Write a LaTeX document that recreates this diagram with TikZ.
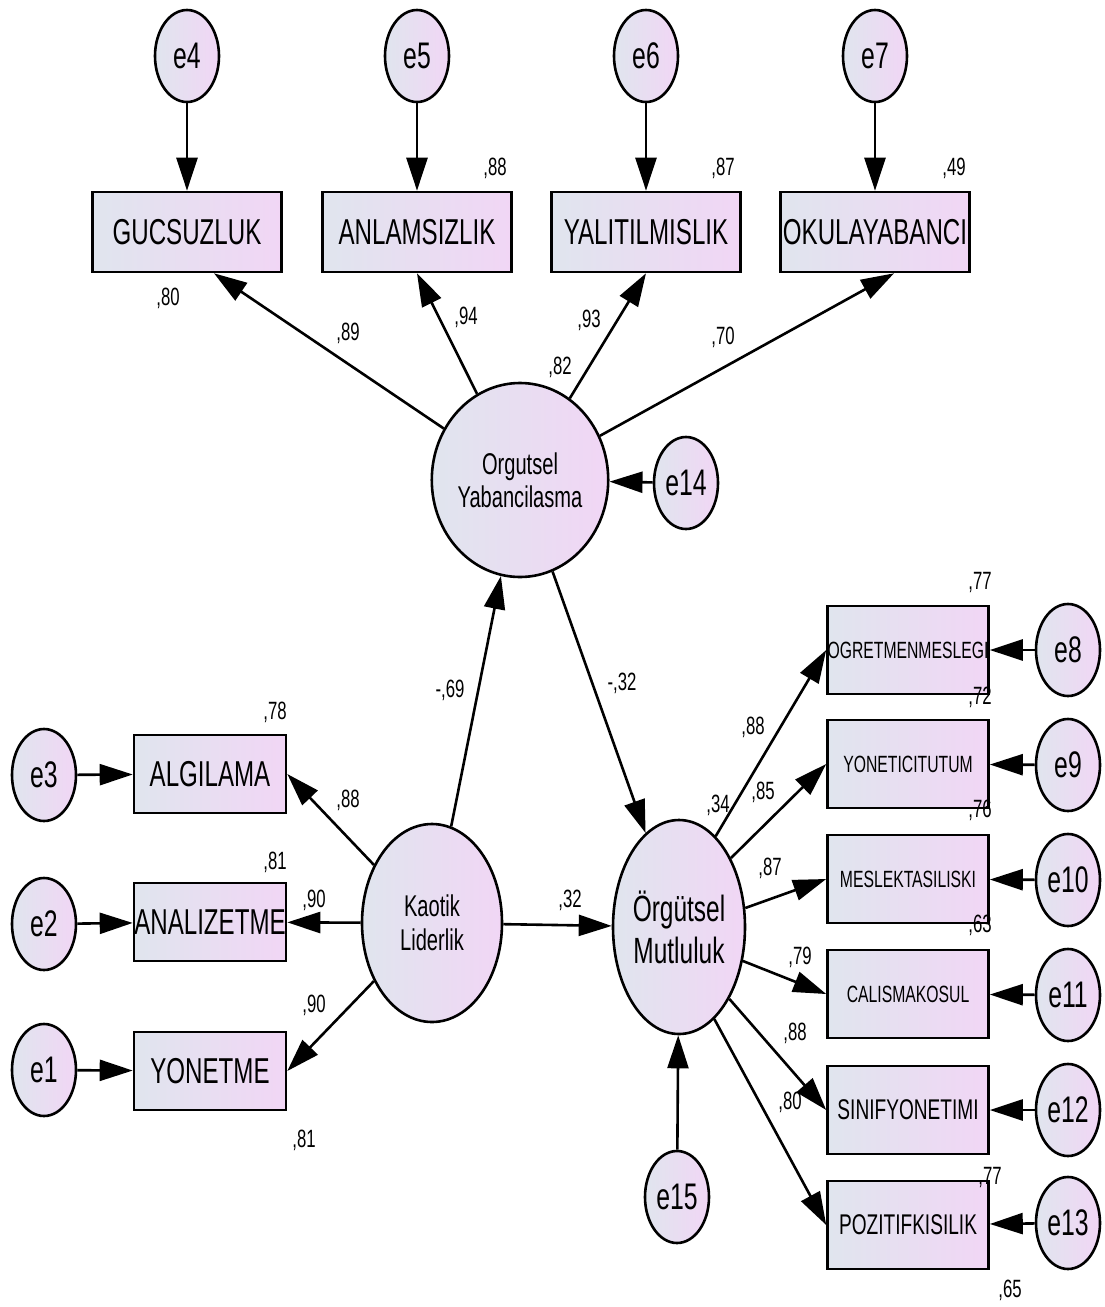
\documentclass[tikz,border=0pt]{standalone}
\usepackage{fontspec}
\setmainfont{Liberation Sans}[FakeStretch=0.67]
\usetikzlibrary{shapes.geometric,arrows.meta}
\definecolor{fillL}{RGB}{224,229,238}
\definecolor{fillR}{RGB}{241,214,245}
\begin{document}
\begin{tikzpicture}[x=1pt, y=-1pt, >={Triangle[length=33pt,width=21pt]}, line width=2.6pt,
    err/.style={ellipse, draw, left color=fillL, right color=fillR, minimum width=64pt, minimum height=92pt, inner sep=0pt, font=\fontsize{37}{37}\selectfont},
    lat/.style={ellipse, draw, left color=fillL, right color=fillR, inner sep=0pt, align=center},
    obs/.style={rectangle, draw, left color=fillL, right color=fillR, inner sep=0pt},
    topobs/.style={obs, minimum width=189pt, minimum height=80pt, font=\fontsize{36}{36}\selectfont},
    leftobs/.style={obs, minimum width=152pt, minimum height=78pt, font=\fontsize{36}{36}\selectfont},
    rightobs/.style={obs, minimum width=161pt, minimum height=88pt, font=\fontsize{23.5}{23.5}\selectfont},
    coef/.style={inner sep=0pt, font=\fontsize{25}{25}\selectfont}]
    \useasboundingbox (0,0) rectangle (1104,1307);
    % latent variables
    \node[lat, minimum width=136pt, minimum height=194pt, font=\fontsize{30}{33}\selectfont] (OY) at (520,480) {Orgutsel\\Yabancilasma};
    \node[lat, minimum width=140pt, minimum height=198pt, font=\fontsize{30}{34}\selectfont] (KL) at (432,923) {Kaotik\\Liderlik};
    \node[lat, minimum width=132pt, minimum height=214pt, font=\fontsize{36.5}{42}\selectfont] (OM) at (679,927) {Örgütsel\\Mutluluk};
    % top indicators
    \node[topobs] (gucs) at (187,232) {GUCSUZLUK};
    \node[topobs] (anlam) at (417,232) {ANLAMSIZLIK};
    \node[topobs] (yalit) at (646,232) {YALITILMISLIK};
    \node[topobs] (okul) at (875,232) {\makebox[0pt]{OKULAYABANCI}};
    \node[err] (e4) at (187,56) {e4};
    \node[err] (e5) at (417,56) {e5};
    \node[err] (e6) at (646,56) {e6};
    \node[err] (e7) at (875,56) {e7};
    \node[err] (e14) at (686,483) {e14};
    % left indicators
    \node[leftobs] (algi) at (210,774) {ALGILAMA};
    \node[leftobs] (anal) at (210,922) {\makebox[0pt]{ANALIZETME}};
    \node[leftobs] (yon) at (210,1071) {YONETME};
    \node[err] (e3) at (44,775) {e3};
    \node[err] (e2) at (44,924) {e2};
    \node[err] (e1) at (44,1070) {e1};
    % right indicators
    \node[rightobs] (ogret) at (908,650) {OGRETMENMESLEGI};
    \node[rightobs] (yonet) at (908,764) {YONETICITUTUM};
    \node[rightobs] (mesl) at (908,879) {MESLEKTASILISKI};
    \node[rightobs] (calis) at (908,994) {CALISMAKOSUL};
    \node[rightobs, font=\fontsize{28.5}{28.5}\selectfont] (sinif) at (908,1110) {SINIFYONETIMI};
    \node[rightobs, font=\fontsize{28.5}{28.5}\selectfont] (pozit) at (908,1225) {POZITIFKISILIK};
    \node[err] (e8) at (1068,650) {e8};
    \node[err] (e9) at (1068,765) {e9};
    \node[err] (e10) at (1068,880) {e10};
    \node[err] (e11) at (1068,995) {e11};
    \node[err] (e12) at (1068,1110) {e12};
    \node[err] (e13) at (1068,1223) {e13};
    \node[err] (e15) at (677,1197) {e15};
    % paths
    \draw[->] (e4) -- (gucs);
    \draw[->] (e5) -- (anlam);
    \draw[->] (e6) -- (yalit);
    \draw[->] (e7) -- (okul);
    \draw[->] (OY) -- ([xshift=27pt]gucs.south);
    \draw[->] (OY) -- (anlam.south);
    \draw[->] (OY) -- (yalit.south);
    \draw[->] (OY) -- ([xshift=19pt]okul.south);
    \draw[->] (e14) -- (OY);
    \draw[->] (KL) -- (OY);
    \draw[->] (OY) -- (OM);
    \draw[->] (KL) -- (OM);
    \draw[->] (KL.135) -- (algi.east);
    \draw[->] (KL) -- (anal);
    \draw[->] (KL.225) -- (yon.east);
    \draw[->] (e3) -- (algi);
    \draw[->] (e2) -- (anal);
    \draw[->] (e1) -- (yon);
    \draw[->] (OM.68) -- (ogret.west);
    \draw[->] (OM.53) -- (yonet.west);
    \draw[->] (OM.16) -- (mesl.west);
    \draw[->] (OM.-28) -- (calis.west);
    \draw[->] (OM.-55) -- (sinif.west);
    \draw[->] (OM.-69) -- (pozit.west);
    \draw[->] (e8) -- (ogret);
    \draw[->] (e9) -- (yonet);
    \draw[->] (e10) -- (mesl);
    \draw[->] (e11) -- (calis);
    \draw[->] (e12) -- (sinif);
    \draw[->] (e13) -- (pozit);
    \draw[->] (e15) -- (OM);
    % estimates
    \node[coef] (r2gucs) at (168,298) {,80};
    \node[coef] (r2anlam) at (495,168) {,88};
    \node[coef] (r2yalit) at (723,168) {,87};
    \node[coef] (r2okul) at (954,168) {,49};
    \node[coef] (lgucs) at (348,333) {,89};
    \node[coef] (lanlam) at (466,317) {,94};
    \node[coef] (lyalit) at (589,320) {,93};
    \node[coef] (lokul) at (723,337) {,70};
    \node[coef] (r2OY) at (560,367) {,82};
    \node[coef] (bKLOY) at (450,690) {-,69};
    \node[coef] (bOYOM) at (622,683) {-,32};
    \node[coef] (bKLOM) at (570,900) {,32};
    \node[coef] (r2algi) at (275,712) {,78};
    \node[coef] (lalgi) at (348,800) {,88};
    \node[coef] (r2anal) at (275,862) {,81};
    \node[coef] (lanal) at (314,900) {,90};
    \node[coef] (lyon) at (314,1005) {,90};
    \node[coef] (r2yon) at (304,1140) {,81};
    \node[coef] (r2ogret) at (980,582) {,77};
    \node[coef] (r2yonet) at (980,697) {,72};
    \node[coef] (r2mesl) at (980,810) {,76};
    \node[coef] (r2calis) at (980,925) {,63};
    \node[coef] (r2sinif) at (990,1177) {,77};
    \node[coef] (r2pozit) at (1010,1290) {,65};
    \node[coef] (logret) at (753,727) {,88};
    \node[coef] (lyonet) at (763,792) {,85};
    \node[coef] (r2OM) at (718,805) {,34};
    \node[coef] (lmesl) at (770,868) {,87};
    \node[coef] (lcalis) at (800,957) {,79};
    \node[coef] (lsinif) at (795,1033) {,88};
    \node[coef] (lpozit) at (790,1102) {,80};
\end{tikzpicture}
\end{document}
